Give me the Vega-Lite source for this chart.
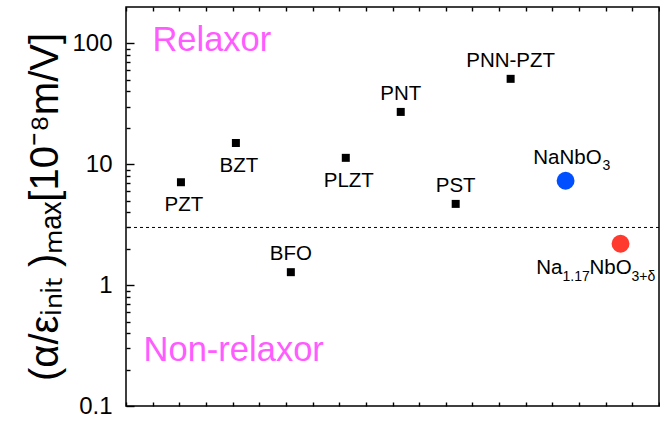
{
  "$schema": "https://vega.github.io/schema/vega-lite/v6.json",
  "width": 533,
  "height": 399,
  "autosize": {"type": "none"},
  "padding": {"left": 126, "top": 7, "right": 1, "bottom": 15},
  "config": {
    "view": {"stroke": "#000", "strokeWidth": 1.5},
    "font": "Liberation Sans",
    "axis": {"labelFont": "Liberation Sans", "titleFont": "Liberation Sans", "labelColor": "black", "titleColor": "black", "tickColor": "black", "tickWidth": 1.4, "domain": false, "grid": false}
  },
  "datasets": {
    "pts": [
      {"name": "PZT", "x": 1, "y": 7.1, "kind": "square", "pos": "below"},
      {"name": "BZT", "x": 2, "y": 15, "kind": "square", "pos": "below"},
      {"name": "BFO", "x": 3, "y": 1.28, "kind": "square", "pos": "above"},
      {"name": "PLZT", "x": 4, "y": 11.3, "kind": "square", "pos": "below"},
      {"name": "PNT", "x": 5, "y": 27.1, "kind": "square", "pos": "above"},
      {"name": "PST", "x": 6, "y": 4.7, "kind": "square", "pos": "above"},
      {"name": "PNN-PZT", "x": 7, "y": 50.9, "kind": "square", "pos": "above"},
      {"name": "NaNbO3", "x": 8, "y": 7.3, "kind": "NaNbO3", "pos": "none"},
      {"name": "Na1.17NbO3+δ", "x": 9, "y": 2.2, "kind": "Na-rich", "pos": "none"}
    ],
    "notes": [
      {"text": "Relaxor", "x": 0.48, "y": 87},
      {"text": "Non-relaxor", "x": 0.32, "y": 0.236}
    ],
    "threshold": [
      {"y": 3}
    ]
  },
  "resolve": {"axis": {"x": "independent"}},
  "layer": [
    {
      "data": {"name": "threshold"},
      "mark": {"type": "rule", "strokeDash": [3, 3], "strokeWidth": 1, "color": "#000"},
      "encoding": {"y": {"field": "y", "type": "quantitative"}}
    },
    {
      "data": {"name": "pts"},
      "transform": [{"filter": "datum.kind == 'square'"}],
      "mark": {"type": "square", "size": 64, "color": "#000", "opacity": 1, "filled": true},
      "encoding": {
        "x": {"field": "x", "type": "quantitative", "scale": {"domain": [0, 9.7], "nice": false, "zero": false},
          "axis": {"orient": "bottom", "values": [0, 0.485, 0.97, 1.455, 1.94, 2.425, 2.91, 3.395, 3.88, 4.365, 4.85, 5.335, 5.82, 6.305, 6.79, 7.275, 7.76, 8.245, 8.73, 9.215, 9.7], "tickSize": -4, "labels": false, "title": null}},
        "y": {"field": "y", "type": "quantitative", "scale": {"type": "log", "domain": [0.1, 200], "nice": false},
          "axis": {
            "values": [0.1, 0.2, 0.3, 0.4, 0.5, 0.6, 0.7, 0.8, 0.9, 1, 2, 3, 4, 5, 6, 7, 8, 9, 10, 20, 30, 40, 50, 60, 70, 80, 90, 100],
            "labelExpr": "indexof([0.1, 1, 10, 100], datum.value) >= 0 ? format(datum.value, '~g') : ''",
            "tickSize": {"condition": {"test": "indexof([0.1, 1, 10, 100], datum.value) >= 0", "value": -8}, "value": -4},
            "labelFontSize": 24,
            "labelPadding": 22,
            "labelOverlap": false,
            "title": "(α/εᵢₙᵢₜ )ₘₐₓ[10⁻⁸m/V]",
            "titleFontSize": 40,
            "titleFontWeight": "normal",
            "titlePadding": 6
          }}
      }
    },
    {
      "data": {"name": "pts"},
      "transform": [{"filter": "datum.kind != 'square'"}],
      "mark": {"type": "circle", "size": 320, "opacity": 1},
      "encoding": {
        "x": {"field": "x", "type": "quantitative", "axis": null},
        "y": {"field": "y", "type": "quantitative"},
        "color": {"field": "kind", "type": "nominal", "scale": {"domain": ["NaNbO3", "Na-rich"], "range": ["#0050ff", "#ff3b2f"]}, "legend": null}
      }
    },
    {
      "data": {"name": "pts"},
      "transform": [{"filter": "datum.pos == 'below'"}],
      "mark": {"type": "text", "fontSize": 20.5, "dy": 29, "dx": 3, "baseline": "alphabetic", "align": "center", "color": "#000"},
      "encoding": {
        "x": {"field": "x", "type": "quantitative", "axis": null},
        "y": {"field": "y", "type": "quantitative"},
        "text": {"field": "name"}
      }
    },
    {
      "data": {"name": "pts"},
      "transform": [{"filter": "datum.pos == 'above'"}],
      "mark": {"type": "text", "fontSize": 20.5, "dy": -12, "baseline": "alphabetic", "align": "center", "color": "#000"},
      "encoding": {
        "x": {"field": "x", "type": "quantitative", "axis": null},
        "y": {"field": "y", "type": "quantitative"},
        "text": {"field": "name"}
      }
    },
    {
      "data": {"name": "pts"},
      "transform": [{"filter": "datum.name == 'NaNbO3'"}],
      "mark": {"type": "text", "text": "NaNbO", "fontSize": 20.5, "dx": 36, "dy": -17, "baseline": "alphabetic", "align": "right", "color": "#000"},
      "encoding": {
        "x": {"field": "x", "type": "quantitative", "axis": null},
        "y": {"field": "y", "type": "quantitative"}
      }
    },
    {
      "data": {"name": "pts"},
      "transform": [{"filter": "datum.name == 'NaNbO3'"}],
      "mark": {"type": "text", "text": "3", "fontSize": 14, "dx": 37, "dy": -11, "baseline": "alphabetic", "align": "left", "color": "#000"},
      "encoding": {
        "x": {"field": "x", "type": "quantitative", "axis": null},
        "y": {"field": "y", "type": "quantitative"}
      }
    },
    {
      "data": {"name": "pts"},
      "transform": [{"filter": "datum.kind == 'Na-rich'"}],
      "mark": {"type": "text", "text": "Na", "fontSize": 20.5, "dx": -58, "dy": 30, "baseline": "alphabetic", "align": "right", "color": "#000"},
      "encoding": {
        "x": {"field": "x", "type": "quantitative", "axis": null},
        "y": {"field": "y", "type": "quantitative"}
      }
    },
    {
      "data": {"name": "pts"},
      "transform": [{"filter": "datum.kind == 'Na-rich'"}],
      "mark": {"type": "text", "text": "1.17", "fontSize": 14, "dx": -58, "dy": 37, "baseline": "alphabetic", "align": "left", "color": "#000"},
      "encoding": {
        "x": {"field": "x", "type": "quantitative", "axis": null},
        "y": {"field": "y", "type": "quantitative"}
      }
    },
    {
      "data": {"name": "pts"},
      "transform": [{"filter": "datum.kind == 'Na-rich'"}],
      "mark": {"type": "text", "text": "NbO", "fontSize": 20.5, "dx": -31, "dy": 30, "baseline": "alphabetic", "align": "left", "color": "#000"},
      "encoding": {
        "x": {"field": "x", "type": "quantitative", "axis": null},
        "y": {"field": "y", "type": "quantitative"}
      }
    },
    {
      "data": {"name": "pts"},
      "transform": [{"filter": "datum.kind == 'Na-rich'"}],
      "mark": {"type": "text", "text": "3+δ", "fontSize": 14, "dx": 11, "dy": 37, "baseline": "alphabetic", "align": "left", "color": "#000"},
      "encoding": {
        "x": {"field": "x", "type": "quantitative", "axis": null},
        "y": {"field": "y", "type": "quantitative"}
      }
    },
    {
      "data": {"name": "notes"},
      "mark": {"type": "text", "fontSize": 34.5, "baseline": "alphabetic", "align": "left", "color": "#ff5cff"},
      "encoding": {
        "x": {"field": "x", "type": "quantitative",
          "axis": {"orient": "top", "values": [0, 0.485, 0.97, 1.455, 1.94, 2.425, 2.91, 3.395, 3.88, 4.365, 4.85, 5.335, 5.82, 6.305, 6.79, 7.275, 7.76, 8.245, 8.73, 9.215, 9.7], "tickSize": -4, "labels": false, "title": null}},
        "y": {"field": "y", "type": "quantitative"},
        "text": {"field": "text"}
      }
    }
  ]
}
